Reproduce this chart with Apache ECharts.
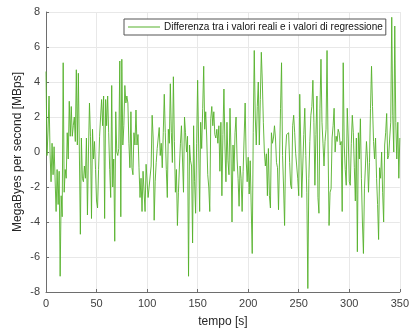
<!DOCTYPE html>
<html>
<head>
<meta charset="utf-8">
<script src="https://cdn.jsdelivr.net/npm/echarts@6/dist/echarts.min.js"></script>
<style>html,body{margin:0;padding:0;background:#fff}#c{width:412px;height:333px}</style>
</head>
<body>
<div id="c"></div>
<script>
const seriesName = 'Differenza tra i valori reali e i valori di regressione';
const xTitle = 'tempo [s]';
const yTitle = 'MegaByes per second [MBps]';
const xTicks = [0, 50, 100, 150, 200, 250, 300, 350];
const yTicks = [-8, -6, -4, -2, 0, 2, 4, 6, 8];
const residuals = [
 4.6,-0.2,1.2,3.2,0.0,-1.7,0.5,-1.3,0.3,0.4,
 -3.4,-1.0,-3.0,-1.1,-7.1,-2.5,-3.7,5.1,-2.3,-1.0,
 -1.5,1.1,-0.4,2.9,0.9,2.6,0.9,1.5,2.0,0.6,
 4.7,0.4,4.5,0.0,-4.7,0.8,-1.5,-1.7,-0.8,-1.5,
 0.8,-3.6,0.0,2.8,0.9,-3.8,1.3,-0.4,0.6,-1.0,
 -2.8,-3.2,-1.0,0.9,2.0,3.0,1.5,3.2,-3.8,3.0,
 1.5,3.2,1.1,-1.0,-2.6,3.8,-2.0,-0.4,-5.1,2.3,
 0.0,-0.2,0.2,5.2,-3.7,5.3,0.4,1.5,3.8,2.8,
 3.2,2.8,0.5,-0.9,2.3,-0.9,-1.3,1.1,0.4,2.4,
 0.4,1.0,-0.9,-2.6,-1.5,-3.4,-1.1,-1.2,-3.4,-0.7,
 -0.8,-2.6,-2.0,-1.9,-0.8,2.1,0.8,-3.9,-1.7,-0.6,
 0.2,0.2,1.4,-0.2,0.5,-0.9,1.1,3.3,1.1,-1.0,
 -2.6,1.3,0.5,3.9,1.1,-0.6,4.3,0.6,-2.3,-1.0,
 -4.2,-2.3,-0.8,0.5,1.5,-0.4,-2.3,2.0,1.1,0.0,
 0.9,-7.1,0.4,-0.5,-0.8,-5.2,1.5,-1.7,-3.5,0.5,
 4.1,0.4,-3.4,1.7,0.2,2.5,4.9,1.3,2.3,0.8,
 -1.3,-2.0,-3.4,1.9,2.6,1.5,2.3,1.0,0.8,1.3,
 0.5,1.5,-1.1,1.7,-2.5,1.0,3.6,0.4,-1.7,1.7,
 -0.5,-1.3,2.5,0.0,-4.0,0.4,-1.1,1.1,2.0,-0.4,
 -1.5,-3.1,-0.8,-1.5,-3.4,-1.1,-1.1,2.8,-0.4,-1.7,
 -0.3,-2.4,-0.5,-0.5,-5.8,1.1,5.8,2.0,0.4,2.6,
 4.0,0.4,3.0,5.7,4.0,1.7,0.0,-0.8,-0.1,-2.5,
 0.2,-2.5,-3.2,1.1,0.5,0.8,1.5,0.8,-0.6,-0.9,
 -3.3,-0.4,2.5,5.1,-0.2,-2.0,-4.2,0.0,1.0,1.1,
 1.1,-0.6,-1.9,-2.1,1.5,2.1,1.1,-0.1,-0.8,-1.5,
 -2.5,3.3,0.4,-2.6,-0.8,1.0,2.5,-0.2,-2.3,-7.8,
 -1.5,0.6,2.1,2.6,4.1,1.7,-1.9,1.0,3.2,-2.6,
 -3.5,2.5,5.3,1.7,0.5,-0.8,0.6,1.3,5.8,0.4,
 -4.2,-2.3,-2.1,0.8,1.5,2.5,0.0,0.9,0.6,1.3,
 1.1,0.4,0.6,-3.4,5.1,0.4,-1.0,-1.9,2.5,0.8,
 -1.7,-1.9,0.5,2.1,1.1,-0.9,-2.8,0.8,-5.7,1.1,
 -0.4,1.9,-1.5,-4.0,-5.8,-2.1,-0.8,0.6,-0.4,-2.3,
 -0.6,2.5,4.9,2.6,0.6,-0.4,0.8,-1.5,-3.0,-5.0,
 -0.9,-1.5,0.0,-2.3,-4.0,0.4,1.1,2.2,-0.4,-0.2,
 0.8,1.7,7.7,2.1,0.0,7.2,1.7,-0.4,1.7,-1.5,0.8
];
const times = residuals.map((_, i) => i);

const font = 'Liberation Sans, Arial, Helvetica, sans-serif';
const lineColor = '#55b12a';
const chart = echarts.init(document.getElementById('c'), null, {renderer: 'canvas'});
chart.setOption({
  animation: false,
  backgroundColor: '#ffffff',
  grid: {left: 46, right: 9, top: 12, bottom: 39, containLabel: false},
  legend: {
    show: true,
    left: 124, top: 19,
    padding: [2, 3, 2, 4],
    itemWidth: 32, itemHeight: 1, itemGap: 0,
    icon: 'rect',
    borderColor: '#555', borderWidth: 1, borderRadius: 0,
    backgroundColor: '#ffffff',
    textStyle: {fontFamily: font, fontSize: 10, color: '#111', lineHeight: 12, padding: [0, 0, 0, -1]},
    data: [{name: seriesName}]
  },
  xAxis: {
    type: 'value', min: xTicks[0], max: xTicks[xTicks.length-1], interval: 50,
    name: xTitle, nameLocation: 'middle', nameGap: 24,
    nameTextStyle: {fontFamily: font, fontSize: 12, color: '#262626'},
    axisLine: {show: true, onZero: false, lineStyle: {color: '#6e6e6e', width: 1}},
    axisTick: {show: true, inside: true, length: 3, lineStyle: {color: '#6e6e6e'}},
    axisLabel: {fontFamily: font, fontSize: 11, color: '#404040', margin: 6},
    splitLine: {show: true, lineStyle: {color: '#e8e8e8', width: 1}}
  },
  yAxis: {
    type: 'value', min: yTicks[0], max: yTicks[yTicks.length-1], interval: 2,
    name: yTitle, nameLocation: 'middle', nameGap: 22, nameRotate: 90,
    nameMoveOverlap: false,
    nameTextStyle: {fontFamily: font, fontSize: 12, color: '#262626'},
    axisLine: {show: true, onZero: false, lineStyle: {color: '#6e6e6e', width: 1}},
    axisTick: {show: true, inside: true, length: 3, lineStyle: {color: '#6e6e6e'}},
    axisLabel: {fontFamily: font, fontSize: 11, color: '#404040', margin: 6},
    splitLine: {show: true, lineStyle: {color: '#e8e8e8', width: 1}}
  },
  series: [{
    name: seriesName,
    type: 'line',
    symbol: 'none',
    data: times.map((t, i) => [t, residuals[i]]),
    lineStyle: {color: lineColor, width: 0.9},
    itemStyle: {color: lineColor}
  }]
});
</script>
</body>
</html>
